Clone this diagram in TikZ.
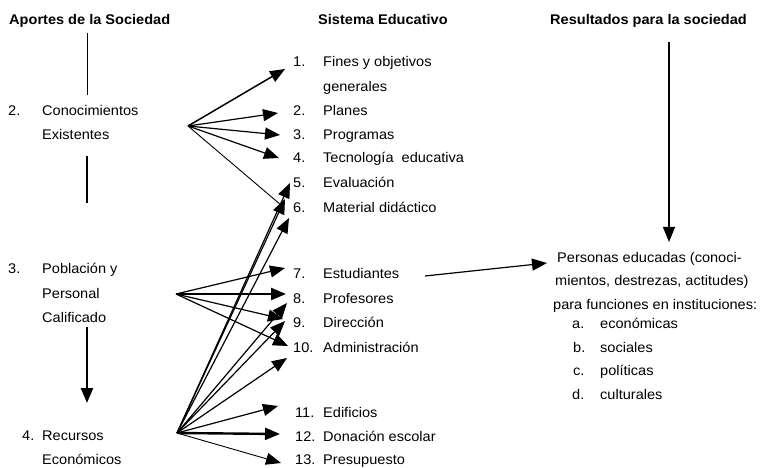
\documentclass[tikz,border=0pt]{standalone}
\usepackage{fontspec}
\setmainfont{Liberation Sans}[FakeStretch=1.04]
\usetikzlibrary{arrows.meta}
\tikzset{
  txt/.style={anchor=base west, inner sep=0pt, font=\fontsize{14}{16}\selectfont},
  hdr/.style={anchor=base west, inner sep=0pt, font=\fontsize{14}{16}\selectfont\bfseries},
  arr/.style={-{Triangle[length=15pt,width=12pt]}, line width=1.2pt},
  thk/.style={line width=2.4pt},
  thn/.style={line width=0.9pt},
}
\begin{document}
\begin{tikzpicture}[x=1pt,y=-1pt]
\useasboundingbox (0,0) rectangle (761,468);

% headers
\node[hdr] (hA) at (9,25) {Aportes de la Sociedad};
\node[hdr] (hS) at (318,25) {Sistema Educativo};
\node[hdr] (hR) at (550,25) {Resultados para la sociedad};

% left column
\node[txt] (n2) at (8,116) {2.};
\node[txt] (t2a) at (42,116) {Conocimientos};
\node[txt] (t2b) at (42,140) {Existentes};
\node[txt] (n3) at (8,273) {3.};
\node[txt] (t3a) at (42,273) {Población y};
\node[txt] (t3b) at (42,298) {Personal};
\node[txt] (t3c) at (42,322) {Calificado};
\node[txt] (n4) at (22,440) {4.};
\node[txt] (t4a) at (42,440) {Recursos};
\node[txt] (t4b) at (42,464) {Económicos};

% middle column
\node[txt] (m1) at (293,67) {1.};
\node[txt] (s1) at (323,67) {Fines y objetivos};
\node[txt] (s1b) at (323,92) {generales};
\node[txt] (m2) at (293,116) {2.};
\node[txt] (s2) at (323,116) {Planes};
\node[txt] (m3) at (293,140) {3.};
\node[txt] (s3) at (323,140) {Programas};
\node[txt] (m4) at (293,163) {4.};
\node[txt] (s4) at (323,163) {Tecnología\ \ educativa};
\node[txt] (m5) at (293,188) {5.};
\node[txt] (s5) at (323,188) {Evaluación};
\node[txt] (m6) at (293,212) {6.};
\node[txt] (s6) at (323,212) {Material didáctico};
\node[txt] (m7) at (293,278) {7.};
\node[txt] (s7) at (323,278) {Estudiantes};
\node[txt] (m8) at (293,303) {8.};
\node[txt] (s8) at (323,303) {Profesores};
\node[txt] (m9) at (293,327) {9.};
\node[txt] (s9) at (323,327) {Dirección};
\node[txt] (m10) at (293,352) {10.};
\node[txt] (s10) at (323,352) {Administración};
\node[txt] (m11) at (295,417) {11.};
\node[txt] (s11) at (323,417) {Edificios};
\node[txt] (m12) at (295,441) {12.};
\node[txt] (s12) at (323,441) {Donación escolar};
\node[txt] (m13) at (295,464) {13.};
\node[txt] (s13) at (323,464) {Presupuesto};

% right column
\node[txt] (r1) at (557,262) {Personas educadas (conoci-};
\node[txt] (r2) at (555,285) {mientos, destrezas, actitudes)};
\node[txt] (r3) at (553,309) {para funciones en instituciones:};
\node[txt] (la) at (572,328) {a.};
\node[txt] (ta) at (600,328) {económicas};
\node[txt] (lb) at (573,352) {b.};
\node[txt] (tb) at (600,352) {sociales};
\node[txt] (lc) at (573,375) {c.};
\node[txt] (tc) at (600,375) {políticas};
\node[txt] (ld) at (572,399) {d.};
\node[txt] (td) at (600,399) {culturales};

% coordinates
\coordinate (hubK) at (188,126);
\coordinate (hubP) at (176,294);
\coordinate (hubR) at (177,433);
\coordinate (k1) at (285,69);
\coordinate (k2) at (278,113);
\coordinate (k3) at (280,135);
\coordinate (k4) at (279,158);
\coordinate (k6) at (281,205);
\coordinate (p7) at (285,268);
\coordinate (p8) at (286,294);
\coordinate (p9) at (283,319);
\coordinate (p10) at (288,346);
\coordinate (q5) at (290,183);
\coordinate (q6) at (285,199);
\coordinate (q6b) at (289,218);
\coordinate (q8) at (287,303);
\coordinate (q9) at (285,321);
\coordinate (q10) at (287,358);
\coordinate (q11) at (278,406);
\coordinate (q12) at (280,434);
\coordinate (q13) at (281,463);
\coordinate (eS) at (425,276);
\coordinate (eE) at (547,263);
\coordinate (rTop) at (669,42);
\coordinate (rBot) at (669,242);
\coordinate (l1a) at (87,33);
\coordinate (l1b) at (87,95);
\coordinate (l2a) at (87,156);
\coordinate (l2b) at (87,203);
\coordinate (l3a) at (87,327);
\coordinate (l3b) at (87,403);

% left vertical lines
\draw[thn] (l1a) -- (l1b);
\draw[thk] (l2a) -- (l2b);
\draw[arr,thk] (l3a) -- (l3b);

% Conocimientos
\draw[arr,line width=1.5pt] (hubK) -- (k1);
\draw[arr] (hubK) -- (k2);
\draw[arr] (hubK) -- (k3);
\draw[arr] (hubK) -- (k4);
\draw[thn] (hubK) -- (k6);

% Poblacion
\draw[arr] (hubP) -- (p7);
\draw[arr,thk] (hubP) -- (p8);
\draw[arr] (hubP) -- (p9);
\draw[arr] (hubP) -- (p10);

% Recursos
\draw[arr] (hubR) -- (q5);
\draw[arr] (hubR) -- (q6);
\draw[arr] (hubR) -- (q6b);
\draw[arr] (hubR) -- (q8);
\draw[arr] (hubR) -- (q9);
\draw[arr] (hubR) -- (q10);
\draw[arr] (hubR) -- (q11);
\draw[arr,thk] (hubR) -- (q12);
\draw[arr,thn] (hubR) -- (q13);

% Estudiantes to results
\draw[arr] (eS) -- (eE);
% results arrow
\draw[arr] (rTop) -- (rBot);
\end{tikzpicture}
\end{document}
